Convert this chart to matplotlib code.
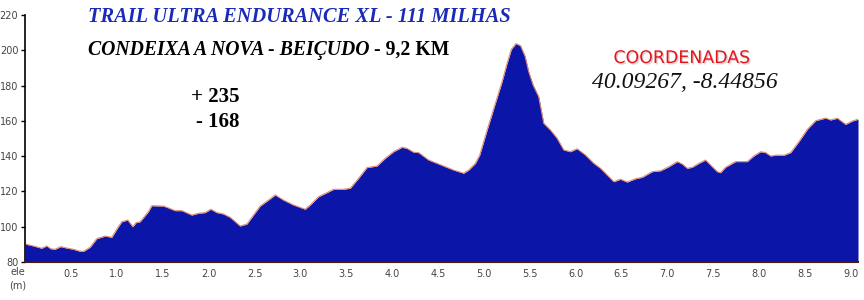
import matplotlib.pyplot as plt
import matplotlib.patheffects as pe

# distance (km) and elevation (m)
dist_km = [0.0, 0.088, 0.18, 0.235, 0.278, 0.325, 0.387, 0.453, 0.525, 0.59,
           0.634, 0.707, 0.78, 0.871, 0.944, 1.016, 1.053, 1.118, 1.173, 1.209,
           1.253, 1.343, 1.38, 1.507, 1.544, 1.635, 1.708, 1.817, 1.889, 1.962,
           2.024, 2.09, 2.162, 2.235, 2.344, 2.417, 2.489, 2.562, 2.652, 2.726,
           2.816, 2.925, 3.053, 3.107, 3.198, 3.29, 3.362, 3.471, 3.544, 3.634,
           3.726, 3.835, 3.926, 4.016, 4.108, 4.163, 4.235, 4.289, 4.398, 4.49,
           4.58, 4.671, 4.78, 4.835, 4.908, 4.955, 5.036, 5.126, 5.199, 5.25,
           5.30, 5.35, 5.40, 5.45, 5.489, 5.537, 5.598, 5.653, 5.726, 5.799,
           5.871, 5.944, 6.017, 6.108, 6.199, 6.272, 6.345, 6.417, 6.49, 6.563,
           6.654, 6.727, 6.836, 6.927, 7.017, 7.109, 7.164, 7.218, 7.273, 7.344,
           7.417, 7.49, 7.545, 7.58, 7.635, 7.745, 7.872, 7.944, 8.017, 8.072,
           8.126, 8.2, 8.272, 8.345, 8.435, 8.527, 8.618, 8.727, 8.781, 8.854,
           8.945, 9.018, 9.079]
elev_m = [90.2, 89.1, 87.8, 89.1, 87.5, 87.2, 88.7, 87.9, 87.2, 86.2,
          86.0, 88.3, 93.2, 94.7, 94.0, 100.0, 102.8, 103.8, 100.0, 102.3,
          102.8, 108.5, 111.9, 111.7, 111.0, 109.1, 109.1, 106.6, 107.6, 108.0,
          109.9, 108.0, 107.2, 105.3, 100.4, 101.5, 106.6, 111.7, 115.1, 118.0,
          115.1, 112.3, 109.9, 112.3, 117.0, 119.3, 121.2, 121.2, 121.8, 127.4,
          133.5, 134.4, 138.8, 142.5, 145.0, 144.4, 142.2, 142.0, 137.8, 135.9,
          134.0, 132.1, 130.3, 132.1, 135.9, 140.6, 154.8, 170.0, 182.2, 192.0,
          200.5, 203.8, 202.6, 196.5, 187.9, 180.3, 173.7, 158.6, 154.8, 150.1,
          143.5, 142.5, 144.2, 140.6, 135.9, 133.1, 129.3, 125.5, 126.9, 125.3,
          127.2, 128.0, 131.2, 131.7, 134.0, 136.9, 135.5, 133.1, 133.7, 135.9,
          137.8, 134.0, 131.2, 130.6, 133.7, 136.9, 136.9, 140.1, 142.5, 142.0,
          140.1, 140.6, 140.5, 142.0, 148.2, 155.2, 160.1, 161.6, 160.5, 161.5,
          158.0, 159.9, 160.9]

y_ticks = [80, 100, 120, 140, 160, 180, 200, 220]
x_ticks = [0.5, 1.0, 1.5, 2.0, 2.5, 3.0, 3.5, 4.0, 4.5, 5.0, 5.5, 6.0, 6.5,
           7.0, 7.5, 8.0, 8.5, 9.0]

W, H = 864, 300
fig = plt.figure(figsize=(W / 100, H / 100), dpi=100)
fig.patch.set_facecolor('white')

ax = fig.add_axes([25.2 / W, 1 - 262 / H, (858 - 25.2) / W, 247 / H])
ax.fill_between(dist_km, elev_m, 80, color='#0b15a7', lw=0)
ax.plot(dist_km, elev_m, color='#e08a72', lw=0.8)

ax.set_xlim(0, dist_km[-1])
ax.set_ylim(80, 220)
ax.set_yticks(y_ticks)
ax.set_xticks(x_ticks)
ax.set_xticklabels([f'{v:.1f}' for v in x_ticks])

tick_font = ['Liberation Sans Narrow', 'DejaVu Sans']
ax.tick_params(axis='y', length=3, width=1, color='black', pad=2,
               labelsize=7, labelcolor='#444444')
ax.tick_params(axis='x', length=0, pad=5, labelsize=7, labelcolor='#444444')
for lab in ax.get_xticklabels() + ax.get_yticklabels():
    lab.set_family(tick_font)

for s in ['top', 'right']:
    ax.spines[s].set_visible(False)
ax.spines['left'].set_color('black')
ax.spines['left'].set_linewidth(1.2)
ax.spines['bottom'].set_color('#4a1812')
ax.spines['bottom'].set_linewidth(1.5)

fig.text(18 / W, 1 - 272 / H, 'ele', ha='center', va='center', fontsize=7,
         color='#444444', family=tick_font)
fig.text(18 / W, 1 - 286 / H, '(m)', ha='center', va='center', fontsize=7,
         color='#444444', family=tick_font)

# titles and notes
fig.text(88 / W, 1 - 17 / H, 'TRAIL ULTRA ENDURANCE XL - 111 MILHAS',
         ha='left', va='center', fontsize=14.7, color='#1a2ab8',
         family='Liberation Serif', weight='bold', style='italic')
t1 = fig.text(88 / W, 1 - 50 / H, 'CONDEIXA A NOVA - BEIÇUDO', ha='left',
              va='center', fontsize=14.2, color='black', family='Liberation Serif',
              weight='bold', style='italic')
fig.canvas.draw()
bb = t1.get_window_extent()
fig.text(bb.x1 / W + 4 / W, 1 - 50 / H, '- 9,2 KM', ha='left', va='center',
         fontsize=14.2, color='black', family='Liberation Serif', weight='bold')

fig.text(215 / W, 1 - 97 / H, '+ 235', ha='center', va='center', fontsize=15,
         color='black', family='Liberation Serif', weight='bold')
fig.text(218 / W, 1 - 122 / H, '- 168', ha='center', va='center', fontsize=15,
         color='black', family='Liberation Serif', weight='bold')

fig.text(682 / W, 1 - 58 / H, 'COORDENADAS', ha='center', va='center',
         fontsize=12.5, color='#e8141c', family='DejaVu Sans',
         path_effects=[pe.withSimplePatchShadow(offset=(1, -1), shadow_rgbFace='#bbbbbb', alpha=0.6)])
fig.text(685 / W, 1 - 83 / H, '40.09267, -8.44856', ha='center', va='center',
         fontsize=17, color='#111111', family='Liberation Serif', style='italic')

fig.savefig('out.png', dpi=100)
